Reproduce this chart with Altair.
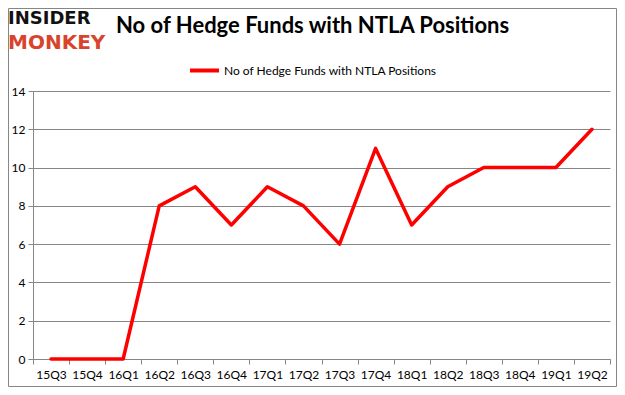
import altair as alt
import pandas as pd

quarters = ["15Q3", "15Q4", "16Q1", "16Q2", "16Q3", "16Q4", "17Q1", "17Q2",
            "17Q3", "17Q4", "18Q1", "18Q2", "18Q3", "18Q4", "19Q1", "19Q2"]
funds = [0, 0, 0, 8, 9, 7, 9, 8, 6, 11, 7, 9, 10, 10, 10, 12]
series_name = "No of Hedge Funds with NTLA Positions"
chart_title = "No of Hedge Funds with NTLA Positions"
y_ticks = [0, 2, 4, 6, 8, 10, 12, 14]

df = pd.DataFrame({"quarter": quarters, "funds": funds, "series": series_name})

W, H = 577, 268
PL, PT, PR, PB = 25, 83, 7, 28
GRAY = "#868686"

line = alt.Chart(df).mark_line(strokeWidth=3.5, strokeJoin="round", strokeCap="round").encode(
    x=alt.X("quarter:N", sort=quarters, bandPosition=0.5,
            scale=alt.Scale(type="band", paddingInner=0, paddingOuter=0),
            axis=alt.Axis(title=None, labelAngle=0, tickBand="extent", domainColor=GRAY,
                          tickColor=GRAY, tickSize=5, labelFontSize=12, labelPadding=5,
                          labelFont="Lato", labelColor="#000000", grid=False)),
    y=alt.Y("funds:Q", scale=alt.Scale(domain=[0, 14], nice=False),
            axis=alt.Axis(title=None, values=y_ticks, grid=True, gridColor=GRAY,
                          domainColor=GRAY, tickColor=GRAY, tickSize=5,
                          labelFontSize=12, labelPadding=3, labelFont="Lato",
                          labelColor="#000000")),
    color=alt.Color("series:N", scale=alt.Scale(range=["#ff0000"]),
                    legend=alt.Legend(title=None, orient="none", legendX=155, legendY=-37,
                                      symbolType="stroke", symbolSize=841,
                                      symbolStrokeWidth=4, labelFontSize=12,
                                      labelFont="Lato", labelColor="#000000",
                                      labelOffset=3, labelLimit=0)),
)

one = pd.DataFrame({"t": [chart_title], "a": ["INSIDER"], "b": ["MONKEY"]})

title = alt.Chart(one).mark_text(align="left", baseline="middle", font="Lato",
                                  fontWeight="bold", fontSize=22, color="#000000").encode(
    text="t:N", x=alt.value(83), y=alt.value(-65))

logo1 = alt.Chart(one).mark_text(align="left", baseline="middle", font="DejaVu Sans",
                                  fontWeight="bold", fontSize=18, color="#111111").encode(
    text="a:N", x=alt.value(-25), y=alt.value(-72))

logo2 = alt.Chart(one).mark_text(align="left", baseline="middle", font="DejaVu Sans",
                                  fontWeight="bold", fontSize=20, color="#d9432c").encode(
    text="b:N", x=alt.value(-25), y=alt.value(-48))

border = alt.Chart(one).mark_rect(fill=None, stroke=GRAY, strokeWidth=1).encode(
    x=alt.value(-PL + 0.5), x2=alt.value(W + PR - 0.5),
    y=alt.value(-PT + 0.5), y2=alt.value(H + PB - 0.5))

chart = alt.layer(border, line, title, logo1, logo2).properties(
    width=W, height=H,
    autosize=alt.AutoSizeParams(type="none"),
    padding={"left": PL, "top": PT, "right": PR, "bottom": PB},
    background="#ffffff",
).configure_view(stroke=None)

chart.save("out.html", embed_options={"renderer": "svg", "actions": False})
